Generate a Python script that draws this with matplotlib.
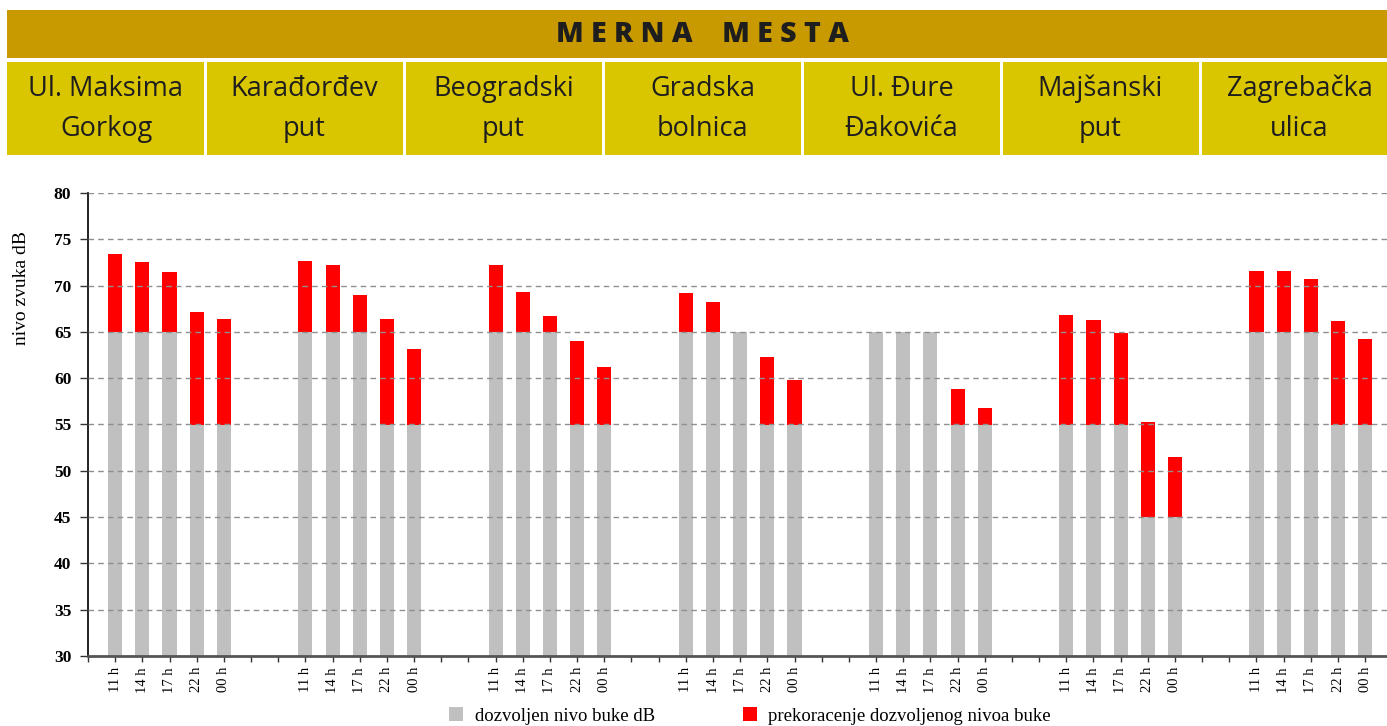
import matplotlib
matplotlib.use("Agg")
import matplotlib.pyplot as plt
from matplotlib.patches import Rectangle, Patch
import numpy as np

# ---------------- data ----------------
locations = ["Ul. Maksima\nGorkog", "Karađorđev\nput", "Beogradski\nput",
             "Gradska\nbolnica", "Ul. Đure\nĐakovića", "Majšanski\nput",
             "Zagrebačka\nulica"]
times = ["11 h", "14 h", "17 h", "22 h", "00 h"]
allowed = [
    [65, 65, 65, 55, 55],
    [65, 65, 65, 55, 55],
    [65, 65, 65, 55, 55],
    [65, 65, 65, 55, 55],
    [65, 65, 65, 55, 55],
    [55, 55, 55, 45, 45],
    [65, 65, 65, 55, 55],
]
measured = [
    [73.4, 72.5, 71.5, 67.2, 66.4],
    [72.7, 72.2, 69.0, 66.4, 63.2],
    [72.2, 69.3, 66.7, 64.0, 61.2],
    [69.2, 68.2, 65.0, 62.3, 59.8],
    [65.0, 65.0, 65.0, 58.8, 56.8],
    [66.8, 66.3, 64.9, 55.3, 51.5],
    [71.6, 71.6, 70.7, 66.2, 64.2],
]
title = "M E R N A    M E S T A"
ylabel = "nivo zvuka dB"
legend_labels = ["dozvoljen nivo buke dB", "prekoracenje dozvoljenog nivoa buke"]

# ---------------- figure ----------------
W, H = 1387, 726
fig = plt.figure(figsize=(W / 100, H / 100), dpi=100)
fig.patch.set_facecolor("white")

def fx(px):
    return px / W

def fy(py):
    return 1 - py / H

# header band
fig.patches.append(Rectangle((fx(7), fy(58)), fx(1399) - fx(7), fy(10) - fy(58),
                             transform=fig.transFigure, facecolor="#C99A00",
                             edgecolor="none", zorder=0))
fig.text(fx(703), fy(34), title, ha="center", va="center", fontsize=20.5,
         fontweight="heavy", family="Open Sans", color="#1e1e1e")

edges = [7, 205, 404, 603, 802, 1001, 1200, 1399]
for i, name in enumerate(locations):
    x0 = edges[i] + (0 if i == 0 else 1.5)
    x1 = edges[i + 1] - 1.5
    fig.patches.append(Rectangle((fx(x0), fy(155)), fx(x1) - fx(x0), fy(62) - fy(155),
                                 transform=fig.transFigure, facecolor="#DAC600",
                                 edgecolor="none", zorder=0))
    cx = (edges[i] + edges[i + 1]) / 2
    l1, l2 = name.split("\n")
    fig.text(fx(cx), fy(96), l1, ha="center", va="baseline", fontsize=19.5,
             family="Open Sans", color="#1e1e1e")
    fig.text(fx(cx), fy(136), l2, ha="center", va="baseline", fontsize=19.5,
             family="Open Sans", color="#1e1e1e")

# ---------------- chart ----------------
ax_left, ax_right, ax_top, ax_bottom = 88, 1387, 193, 656
ax = fig.add_axes([fx(ax_left), fy(ax_bottom), fx(ax_right) - fx(ax_left),
                   fy(ax_top) - fy(ax_bottom)])

n_groups = len(locations)
n_times = len(times)
gap = 2
pos, base_vals, excess_vals, tick_lbls = [], [], [], []
for g in range(n_groups):
    for b in range(n_times):
        pos.append(g * (n_times + gap) + b)
        base_vals.append(allowed[g][b])
        excess_vals.append(max(measured[g][b] - allowed[g][b], 0))
        tick_lbls.append(times[b])
pos = np.array(pos)

ax.bar(pos, base_vals, width=0.52, color="#C0C0C0", label=legend_labels[0], zorder=1)
ax.bar(pos, excess_vals, bottom=base_vals, width=0.52, color="#FF0000",
       label=legend_labels[1], zorder=1)

slot_px = (1365 - 115) / 46
xmax = -1 + (ax_right - ax_left) / slot_px
ax.set_xlim(-1, xmax)
ax.set_ylim(30, 80)

all_ticks = np.arange(-1, pos.max() + 1)
ax.set_xticks(all_ticks)
lbl_map = dict(zip(pos, tick_lbls))
ax.set_xticklabels([lbl_map.get(t, "") for t in all_ticks], rotation=90,
                   family="Liberation Serif", fontsize=10.5)
ax.tick_params(axis="x", length=4, width=1, color="#333333", pad=4)

ax.set_yticks(np.arange(30, 81, 5))
ax.set_yticklabels([str(v) for v in range(30, 81, 5)], family="Liberation Serif",
                   fontweight="bold", fontsize=12.5)
ax.tick_params(axis="y", length=6, width=1, color="#333333", pad=6)

ax.yaxis.grid(True, linestyle=(0, (4, 3)), color="#8f8f8f", linewidth=1)
ax.set_axisbelow(False)
ax.xaxis.grid(False)

for s in ["top", "right"]:
    ax.spines[s].set_visible(False)
ax.spines["left"].set_color("#111111")
ax.spines["left"].set_linewidth(1.3)
ax.spines["bottom"].set_color("#555555")
ax.spines["bottom"].set_linewidth(2)
ax.spines["bottom"].set_zorder(3)

fig.text(fx(22), fy(288), ylabel, rotation=90, ha="center", va="center",
         family="Liberation Serif", fontsize=14)

handles = [Patch(facecolor="#C0C0C0", edgecolor="none"),
           Patch(facecolor="#FF0000", edgecolor="none")]
fig.legend(handles, legend_labels, loc="center", bbox_to_anchor=(fx(750), fy(716)),
           ncol=2, frameon=False, prop={"family": "Liberation Serif", "size": 13.5},
           handlelength=0.75, handleheight=0.75, handletextpad=0.6, columnspacing=4.7)

fig.savefig("out.png", dpi=100, facecolor="white")
